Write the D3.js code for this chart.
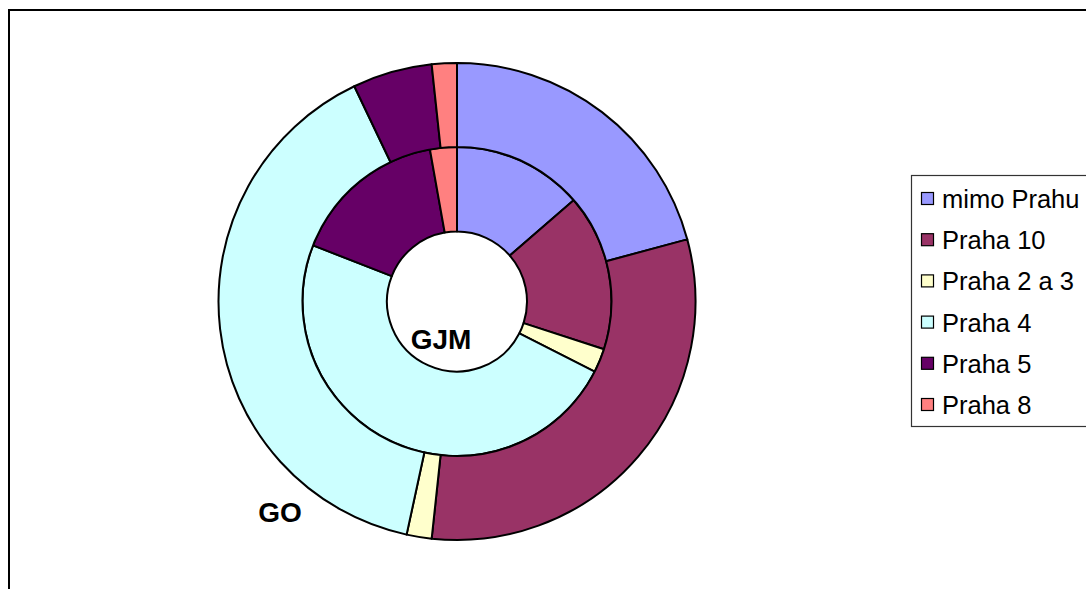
<!DOCTYPE html>
<html>
<head>
<meta charset="utf-8">
<script src="https://cdn.jsdelivr.net/npm/d3@7"></script>
<style>
  html, body { margin: 0; padding: 0; background: #fff; }
  svg { display: block; }
</style>
</head>
<body>
<svg id="chart" width="1086" height="589"></svg>
<script>
// Data (shares in degrees of the ring)
const categories = ["mimo Prahu", "Praha 10", "Praha 2 a 3", "Praha 4", "Praha 5", "Praha 8"];
const colors = ["#9999FF", "#993366", "#FFFFCC", "#CCFFFF", "#660066", "#FF8080"];
const outerSeriesName = "GO";
const outerValues = [74.9, 111.2, 6.1, 142.3, 19.4, 6.1];
const innerSeriesName = "GJM";
const innerValues = [49.0, 59.0, 9.0, 174.3, 58.6, 10.1];

const svg = d3.select("#chart");

// chart frame
svg.append("rect")
  .attr("x", 9).attr("y", 10)
  .attr("width", 1200).attr("height", 700)
  .attr("fill", "#fff").attr("stroke", "#000").attr("stroke-width", 2);

const cx = 457, cy = 301.5;
const g = svg.append("g").attr("transform", `translate(${cx},${cy})`);

const pie = d3.pie().sort(null).value(d => d);

function ring(values, r0, r1) {
  const arc = d3.arc().innerRadius(r0).outerRadius(r1);
  g.append("g").selectAll("path")
    .data(pie(values))
    .join("path")
    .attr("d", arc)
    .attr("fill", (d, i) => colors[i])
    .attr("stroke", "#000")
    .attr("stroke-width", 2)
    .attr("stroke-linejoin", "round");
}
ring(innerValues, 70, 154.5);
ring(outerValues, 154.5, 238.5);

// series labels
svg.append("text")
  .attr("x", 441).attr("y", 349)
  .attr("text-anchor", "middle")
  .attr("font-family", "Liberation Sans, Arial, sans-serif")
  .attr("font-weight", "bold").attr("font-size", 28)
  .text(innerSeriesName);
svg.append("text")
  .attr("x", 280).attr("y", 522)
  .attr("text-anchor", "middle")
  .attr("font-family", "Liberation Sans, Arial, sans-serif")
  .attr("font-weight", "bold").attr("font-size", 28)
  .text(outerSeriesName);

// legend
const lg = svg.append("g");
lg.append("rect")
  .attr("x", 911.5).attr("y", 175.5)
  .attr("width", 300).attr("height", 251)
  .attr("fill", "#fff").attr("stroke", "#333").attr("stroke-width", 1.2);

const ly = d3.scalePoint().domain(categories).range([199, 405]);
const items = lg.selectAll("g.item").data(categories).join("g").attr("class", "item")
  .attr("transform", d => `translate(0,${ly(d)})`);
items.append("rect")
  .attr("x", 921.5).attr("y", -6.5)
  .attr("width", 12).attr("height", 12)
  .attr("fill", (d, i) => colors[i])
  .attr("stroke", "#000").attr("stroke-width", 1.2);
items.append("text")
  .attr("x", 942).attr("y", 9)
  .attr("font-family", "Liberation Sans, Arial, sans-serif")
  .attr("font-size", 25.5)
  .attr("fill", "#000")
  .text(d => d);
</script>
</body>
</html>
